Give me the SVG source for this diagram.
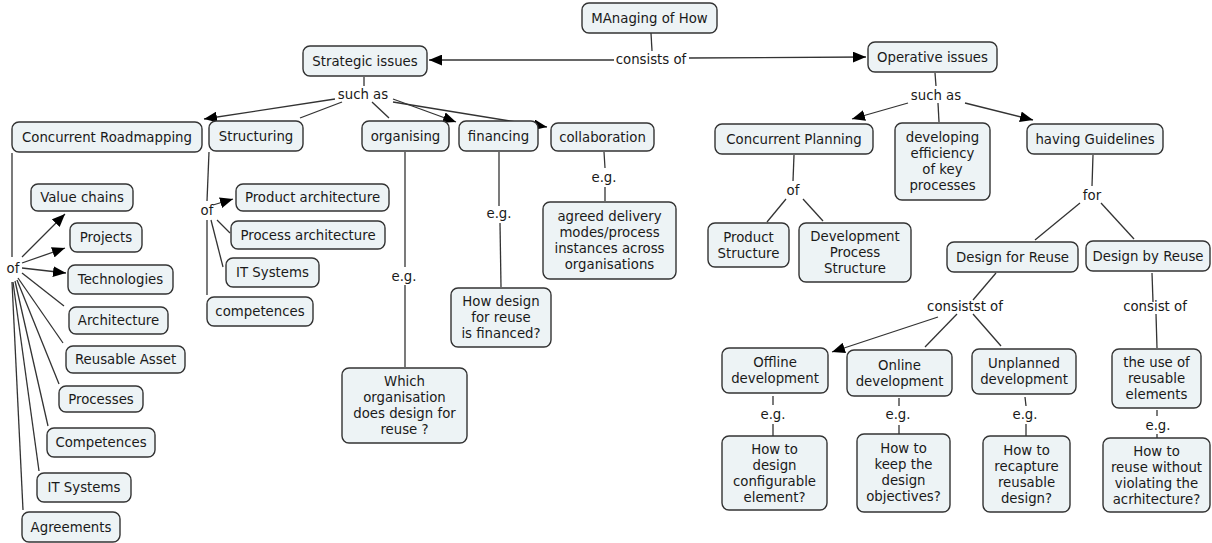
<svg xmlns="http://www.w3.org/2000/svg" width="1212" height="543" viewBox="0 0 1212 543">
<style>
.n rect{fill:#edf3f5;stroke:#333;stroke-width:1.4}
text{font-family:"DejaVu Sans","Verdana",sans-serif;font-size:13.3px;fill:#1a1a1a;text-anchor:middle}
.c line{stroke:#333;stroke-width:1.3;fill:none}
.a{marker-end:url(#ah)}
</style>
<defs>
<marker id="ah" viewBox="0 0 12 10" refX="12" refY="5" markerWidth="13" markerHeight="11" orient="auto" markerUnits="userSpaceOnUse">
<path d="M0,0 L12,5 L0,10 z" fill="#000"/>
</marker>
</defs>
<rect width="1212" height="543" fill="#fff"/>
<g id="connectors" class="c">
<line x1="651" y1="33" x2="652" y2="51"/>
<line class="a" x1="614" y1="60" x2="429" y2="60"/>
<line class="a" x1="689" y1="58" x2="866" y2="57"/>
<text x="651" y="63.5">consists of</text>
<line x1="364" y1="77" x2="364" y2="86"/>
<text x="363" y="98.5">such as</text>
<line class="a" x1="335" y1="99" x2="204" y2="119"/>
<line x1="342" y1="102" x2="300" y2="118"/>
<line x1="372" y1="102" x2="389" y2="118"/>
<line class="a" x1="393" y1="99" x2="456" y2="122"/>
<line class="a" x1="393" y1="102" x2="547" y2="127"/>
<line x1="12" y1="153" x2="12" y2="257"/>
<text x="13" y="272.5">of</text>
<line class="a" x1="22" y1="257" x2="65" y2="214"/>
<line class="a" x1="22" y1="263" x2="65" y2="248"/>
<line class="a" x1="22" y1="268" x2="66" y2="273"/>
<line x1="22" y1="273" x2="64" y2="306"/>
<line x1="18" y1="278" x2="63" y2="343"/>
<line x1="17" y1="280" x2="59" y2="384"/>
<line x1="15" y1="281" x2="48" y2="426"/>
<line x1="13" y1="282" x2="39" y2="471"/>
<line x1="12" y1="282" x2="23" y2="510"/>
<line x1="209" y1="152" x2="207" y2="201"/>
<text x="207" y="215">of</text>
<line class="a" x1="213" y1="205" x2="233" y2="199"/>
<line x1="217" y1="220" x2="230" y2="233"/>
<line x1="211" y1="220" x2="223" y2="267"/>
<line x1="207" y1="220" x2="207" y2="295"/>
<line x1="405" y1="152" x2="405" y2="267"/>
<text x="404" y="280.5">e.g.</text>
<line x1="405" y1="285" x2="405" y2="367"/>
<line x1="499" y1="152" x2="499" y2="206"/>
<text x="499" y="217.5">e.g.</text>
<line x1="500" y1="223" x2="501" y2="287"/>
<line x1="604" y1="152" x2="605" y2="168"/>
<text x="604" y="181.5">e.g.</text>
<line x1="605" y1="187" x2="605" y2="201"/>
<line x1="935" y1="73" x2="936" y2="86"/>
<text x="936" y="99.5">such as</text>
<line class="a" x1="908" y1="103" x2="852" y2="119"/>
<line x1="938" y1="103" x2="939" y2="122"/>
<line class="a" x1="965" y1="103" x2="1033" y2="120"/>
<line x1="794" y1="155" x2="793" y2="181"/>
<text x="793" y="194.5">of</text>
<line x1="786" y1="199" x2="767" y2="222"/>
<line x1="803" y1="199" x2="823" y2="221"/>
<line x1="1093" y1="155" x2="1092" y2="186"/>
<text x="1092" y="199.5">for</text>
<line x1="1080" y1="203" x2="1035" y2="240"/>
<line x1="1101" y1="203" x2="1134" y2="239"/>
<line x1="996" y1="273" x2="973" y2="300"/>
<text x="965" y="310.5">consistst of</text>
<line class="a" x1="938" y1="317" x2="832" y2="352"/>
<line x1="957" y1="314" x2="925" y2="347"/>
<line x1="973" y1="314" x2="1001" y2="346"/>
<line x1="1152" y1="273" x2="1153" y2="302"/>
<text x="1155" y="310.5">consist of</text>
<line x1="1156" y1="314" x2="1157" y2="348"/>
<line x1="773" y1="396" x2="773" y2="405"/>
<text x="773" y="418.5">e.g.</text>
<line x1="773" y1="424" x2="773" y2="436"/>
<line x1="899" y1="398" x2="899" y2="406"/>
<text x="898" y="418.5">e.g.</text>
<line x1="899" y1="425" x2="899" y2="434"/>
<line x1="1025" y1="397" x2="1026" y2="406"/>
<text x="1025" y="418.5">e.g.</text>
<line x1="1026" y1="424" x2="1026" y2="436"/>
<line x1="1157" y1="410" x2="1157" y2="416"/>
<text x="1158" y="429.5">e.g.</text>
<line x1="1157" y1="434" x2="1157" y2="438"/>
</g>
<g id="n-managing" class="n"><rect x="582" y="3" width="135" height="30" rx="7"/><text x="649.5" y="23">MAnaging of How</text></g>
<g id="n-strategic" class="n"><rect x="303" y="46" width="124" height="30" rx="7"/><text x="365" y="66">Strategic issues</text></g>
<g id="n-operative" class="n"><rect x="868" y="42" width="129" height="30" rx="7"/><text x="932.5" y="62">Operative issues</text></g>
<g id="n-roadmapping" class="n"><rect x="12" y="122" width="190" height="30" rx="7"/><text x="107" y="141.5">Concurrent Roadmapping</text></g>
<g id="n-structuring" class="n"><rect x="209" y="121" width="94" height="30" rx="7"/><text x="256" y="140.5">Structuring</text></g>
<g id="n-organising" class="n"><rect x="362" y="121" width="87" height="30" rx="7"/><text x="405.5" y="140.5">organising</text></g>
<g id="n-financing" class="n"><rect x="459" y="121" width="79" height="30" rx="7"/><text x="498.5" y="140.5">financing</text></g>
<g id="n-collaboration" class="n"><rect x="551" y="123" width="103" height="28" rx="7"/><text x="602.5" y="141.5">collaboration</text></g>
<g id="n-valuechains" class="n"><rect x="31" y="184" width="102" height="27" rx="7"/><text x="82" y="202">Value chains</text></g>
<g id="n-projects" class="n"><rect x="70" y="223" width="72" height="29" rx="7"/><text x="106" y="242">Projects</text></g>
<g id="n-technologies" class="n"><rect x="68" y="265" width="105" height="29" rx="7"/><text x="120.5" y="284">Technologies</text></g>
<g id="n-architecture" class="n"><rect x="69" y="307" width="99" height="27" rx="7"/><text x="118.5" y="325">Architecture</text></g>
<g id="n-reusableasset" class="n"><rect x="66" y="346" width="119" height="27" rx="7"/><text x="125.5" y="364">Reusable Asset</text></g>
<g id="n-processes" class="n"><rect x="59" y="386" width="84" height="26" rx="7"/><text x="101" y="403.5">Processes</text></g>
<g id="n-competences" class="n"><rect x="47" y="428" width="108" height="29" rx="7"/><text x="101" y="447">Competences</text></g>
<g id="n-itsystems1" class="n"><rect x="37" y="473" width="94" height="29" rx="7"/><text x="84" y="492">IT Systems</text></g>
<g id="n-agreements" class="n"><rect x="22" y="512" width="98" height="30" rx="7"/><text x="71" y="531.5">Agreements</text></g>
<g id="n-productarch" class="n"><rect x="236" y="184" width="153" height="27" rx="7"/><text x="312.5" y="202">Product architecture</text></g>
<g id="n-processarch" class="n"><rect x="231" y="221" width="154" height="28" rx="7"/><text x="308" y="239.5">Process architecture</text></g>
<g id="n-itsystems2" class="n"><rect x="226" y="258" width="93" height="29" rx="7"/><text x="272.5" y="277">IT Systems</text></g>
<g id="n-competences2" class="n"><rect x="207" y="297" width="106" height="29" rx="7"/><text x="260" y="316">competences</text></g>
<g id="n-whichorg" class="n"><rect x="342" y="368" width="125" height="75" rx="7"/><text x="404.5" y="386">Which</text><text x="404.5" y="402">organisation</text><text x="404.5" y="418">does design for</text><text x="404.5" y="434">reuse ?</text></g>
<g id="n-howfinanced" class="n"><rect x="451" y="288" width="100" height="59" rx="7"/><text x="501" y="306">How design</text><text x="501" y="322">for reuse</text><text x="501" y="338">is financed?</text></g>
<g id="n-agreed" class="n"><rect x="543" y="202" width="133" height="77" rx="7"/><text x="609.5" y="221">agreed delivery</text><text x="609.5" y="237">modes/process</text><text x="609.5" y="253">instances across</text><text x="609.5" y="269">organisations</text></g>
<g id="n-concplanning" class="n"><rect x="715" y="124" width="158" height="30" rx="7"/><text x="794" y="143.5">Concurrent Planning</text></g>
<g id="n-developing" class="n"><rect x="895" y="123" width="95" height="77" rx="7"/><text x="942.5" y="142">developing</text><text x="942.5" y="158">efficiency</text><text x="942.5" y="174">of key</text><text x="942.5" y="190">processes</text></g>
<g id="n-guidelines" class="n"><rect x="1027" y="124" width="136" height="30" rx="7"/><text x="1095" y="143.5">having Guidelines</text></g>
<g id="n-productstructure" class="n"><rect x="708" y="223" width="81" height="44" rx="7"/><text x="748.5" y="241.5">Product</text><text x="748.5" y="257.5">Structure</text></g>
<g id="n-devprocess" class="n"><rect x="799" y="223" width="112" height="59" rx="7"/><text x="855" y="241">Development</text><text x="855" y="257">Process</text><text x="855" y="273">Structure</text></g>
<g id="n-dfr" class="n"><rect x="947" y="242" width="131" height="30" rx="7"/><text x="1012.5" y="261.5">Design for Reuse</text></g>
<g id="n-dbr" class="n"><rect x="1086" y="241" width="124" height="30" rx="7"/><text x="1148" y="260.5">Design by Reuse</text></g>
<g id="n-offline" class="n"><rect x="722" y="348" width="106" height="45" rx="7"/><text x="775" y="367">Offline</text><text x="775" y="383">development</text></g>
<g id="n-online" class="n"><rect x="847" y="350" width="105" height="46" rx="7"/><text x="899.5" y="369.5">Online</text><text x="899.5" y="385.5">development</text></g>
<g id="n-unplanned" class="n"><rect x="972" y="349" width="104" height="45" rx="7"/><text x="1024" y="368">Unplanned</text><text x="1024" y="384">development</text></g>
<g id="n-useof" class="n"><rect x="1112" y="349" width="89" height="59" rx="7"/><text x="1156.5" y="367">the use of</text><text x="1156.5" y="383">reusable</text><text x="1156.5" y="399">elements</text></g>
<g id="n-howconfig" class="n"><rect x="722" y="436" width="105" height="74" rx="7"/><text x="774.5" y="454">How to</text><text x="774.5" y="470">design</text><text x="774.5" y="486">configurable</text><text x="774.5" y="502">element?</text></g>
<g id="n-howkeep" class="n"><rect x="857" y="434" width="93" height="78" rx="7"/><text x="903.5" y="453">How to</text><text x="903.5" y="469">keep the</text><text x="903.5" y="485">design</text><text x="903.5" y="501">objectives?</text></g>
<g id="n-howrecapture" class="n"><rect x="983" y="436" width="87" height="76" rx="7"/><text x="1026.5" y="454.5">How to</text><text x="1026.5" y="470.5">recapture</text><text x="1026.5" y="486.5">reusable</text><text x="1026.5" y="502.5">design?</text></g>
<g id="n-howreuse" class="n"><rect x="1103" y="438" width="107" height="74" rx="7"/><text x="1156.5" y="456">How to</text><text x="1156.5" y="472">reuse without</text><text x="1156.5" y="488">violating the</text><text x="1156.5" y="504">acrhitecture?</text></g>
</svg>
